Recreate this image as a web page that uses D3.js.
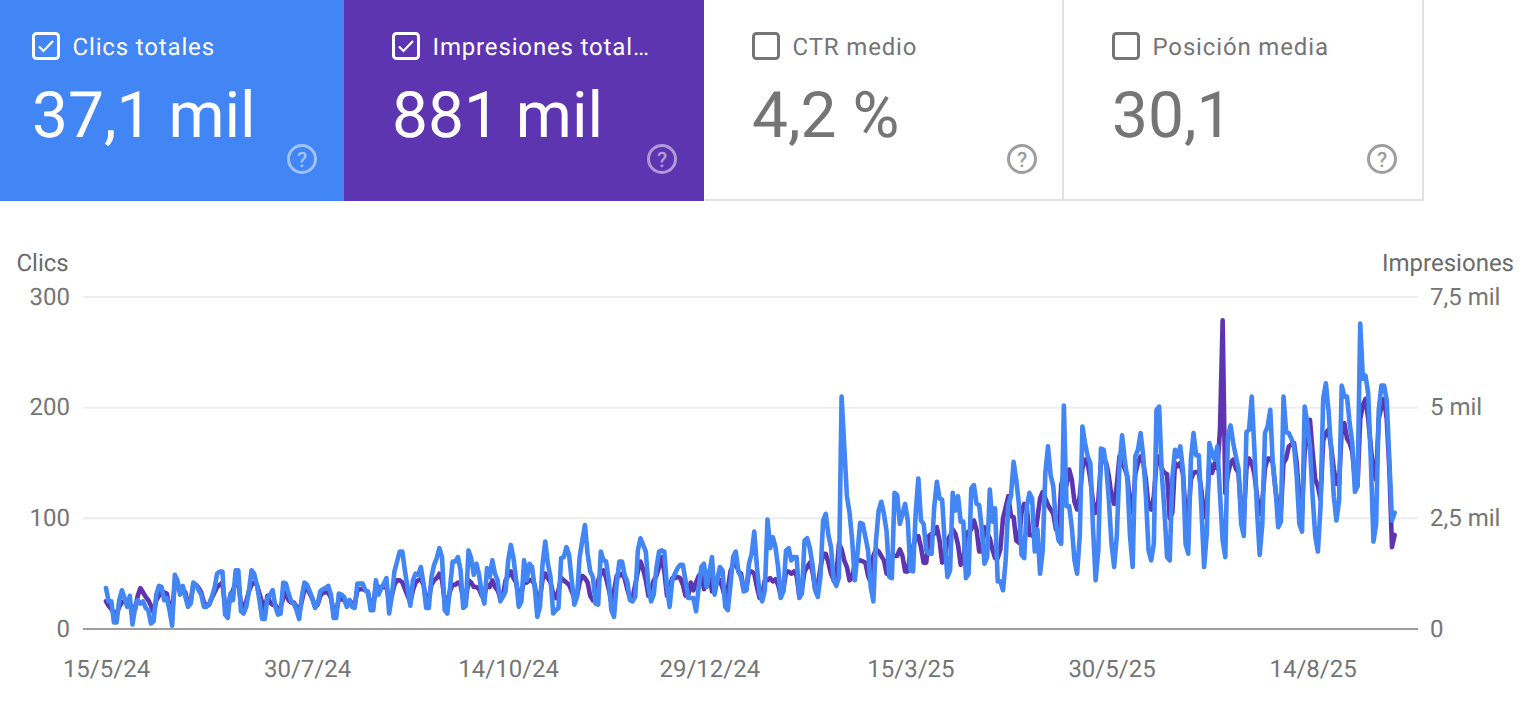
<!DOCTYPE html>
<html lang="es">
<head>
<meta charset="utf-8">
<title>Rendimiento</title>
<script src="https://cdn.jsdelivr.net/npm/d3@7/dist/d3.min.js"></script>
<style>
html,body{margin:0;padding:0;background:#fff;overflow:hidden}
svg{display:block;font-family:Roboto,sans-serif;text-rendering:geometricPrecision}
</style>
</head>
<body>
<svg id="chart" width="1528" height="716"></svg>
<script>
const cardLabels = ["Clics totales", "Impresiones total…", "CTR medio", "Posición media"];
const cardValues = ["37,1 mil", "881 mil", "4,2 %", "30,1"];
const cardChecked = [true, true, false, false];
const cardFills = ["#4285f4", "#5e35b1", "#ffffff", "#ffffff"];

const clicksTicks = [0, 100, 200, 300];
const impressionTicks = [0, 2500, 5000, 7500];
const impressionTickLabels = ["0", "2,5 mil", "5 mil", "7,5 mil"];
const dateTicks = ["2024-05-15", "2024-07-30", "2024-10-14", "2024-12-29", "2025-03-15", "2025-05-30", "2025-08-14"];
const dateTickLabels = ["15/5/24", "30/7/24", "14/10/24", "29/12/24", "15/3/25", "30/5/25", "14/8/25"];
const firstDay = "2024-05-15";

const clicks = [
37,25,25,6,6,26,35,28,20,30,
4,19,26,23,25,19,17,5,7,31,
39,38,26,28,17,3,49,44,31,39,
29,20,23,42,40,35,31,20,20,23,
29,37,50,52,52,13,10,32,26,53,
53,16,14,20,34,53,50,40,26,9,
9,28,31,35,20,13,14,42,41,32,
25,23,17,9,29,42,40,34,28,19,
23,34,36,37,39,31,10,10,32,31,
29,20,26,20,19,41,41,41,35,34,
17,17,44,31,37,41,46,14,29,52,
61,70,70,52,37,21,44,50,49,56,
41,19,19,47,58,64,73,65,17,14,
37,61,61,65,53,19,21,71,64,49,
59,49,32,23,55,47,62,50,44,25,
29,34,62,76,64,44,20,25,62,44,
59,56,38,11,20,59,79,59,47,14,
17,19,64,65,74,67,44,22,29,65,
80,94,68,52,47,23,22,70,62,61,44,
17,11,41,61,61,49,43,26,25,29,
71,82,76,70,38,25,31,55,70,71,
70,38,20,44,50,55,58,58,44,28,
28,28,16,38,56,59,38,50,65,31,
44,56,53,20,17,40,65,70,52,47,
34,35,59,68,88,56,32,25,35,99,
73,83,74,56,28,34,71,73,62,65,
65,28,32,80,82,73,58,35,29,47,
98,104,85,74,44,39,47,210,165,120,
105,80,44,68,96,95,83,71,38,25,
80,107,115,104,88,47,46,123,121,95,104,
113,98,53,52,105,136,98,95,71,68,
68,110,133,118,117,77,47,53,123,107,
120,97,97,46,50,127,130,113,112,90,
59,65,126,97,109,43,43,35,62,112,
120,151,135,113,67,64,111,123,118,70,
90,50,71,141,165,139,129,95,80,77,
202,
111,111,92,62,50,84,183,168,156,150,
92,44,71,163,162,147,117,77,56,84,
147,175,153,135,84,56,156,162,177,156,
120,71,62,77,198,201,141,107,65,62,
137,162,156,165,144,77,68,153,177,157,
157,107,56,86,168,159,153,165,122,80,
65,174,184,168,156,145,95,84,178,180,
210,162,107,67,95,177,183,198,147,126,
92,97,210,178,177,172,165,138,95,88,201,
186,165,120,84,70,111,208,222,198,162,
120,98,116,220,210,210,186,168,124,129,
276,226,229,213,153,79,95,198,220,220,
207,153,98,105
];

const impressions = [
625,525,450,375,350,500,600,
625,550,550,500,450,750,925,
825,725,650,525,375,650,750,
850,825,800,500,400,1000,1000,
850,900,825,550,625,1000,1000,
925,825,600,525,550,700,825,
950,1000,1050,500,450,750,875,
1050,1100,550,500,625,850,1000,
1050,1000,800,600,400,750,600,
550,550,425,500,700,825,650,
600,600,500,375,625,900,900,
800,675,500,550,750,825,825,
825,700,400,400,675,675,650,
550,650,575,550,875,900,900,
875,825,550,500,1000,950,925,
950,950,625,750,1000,1100,1100,
1050,900,750,600,875,1050,1100,
1125,1000,625,700,1000,1100,1150,
1250,1100,625,600,850,1000,1000,
1050,1000,675,650,1100,1050,950,
950,900,750,750,1000,950,1100,
950,875,700,750,1100,1200,1300,
1150,1050,750,800,1100,1050,1100,
1100,1000,600,700,1125,1250,1150,
1050,800,700,875,1150,1100,1050,
1000,850,700,750,1050,1200,1150,
1050,750,650,750,1100,1250,1325,
1150,900,600,850,1200,1200,1250,
1150,900,700,700,1000,1300,1525,
1350,1100,750,900,1100,1200,1400,
1625,1300,750,950,1150,1150,1175,
1150,1000,750,750,1050,875,1050,
1200,1250,900,1050,1300,850,950,
1150,1100,925,700,900,1300,1450,
1500,1300,1250,900,900,1300,1300,
1250,950,700,800,1100,1100,1150,
1075,1125,1000,750,875,1300,1300,
1250,1300,1200,750,900,1300,1400,
1500,1300,900,1000,1375,1700,1700,
1500,1250,1100,1200,1925,1800,1550,
1400,1100,1150,1500,1550,1550,1525,
1500,1200,1050,1650,1800,1750,1650,
1550,1250,1250,1650,1650,1650,1800,
1650,1300,1300,1750,1850,2075,2100,
1850,1500,1500,2100,2150,2150,2300,
2000,1500,1600,2000,2100,2250,2150,
1900,1450,1550,2150,2200,2250,2450,
2250,1750,1750,2300,2150,2050,1800,
1600,1600,1800,2500,2750,3000,2550,
2525,2000,1950,2625,2825,2750,2125,
2125,2050,2500,2950,3100,2950,2800,
2700,2600,2250,2200,3250,3500,3250,
3600,3375,2875,2700,3000,3625,3825,
3750,3375,2875,2625,2875,3750,3825,
3750,3450,3000,2825,3250,3900,3750,
3625,3450,2875,2625,3500,3750,3900,
3750,3375,2750,2700,3000,3750,3900,
3625,3525,3500,2500,2625,3750,3675,
3750,3500,2625,2525,3375,3525,3550,
3525,3125,2525,2750,3750,3525,3750,
3625,4500,6975,3075,3500,3750,3825,
3625,3525,2625,2500,3625,3850,3750,
3500,3000,2600,2875,3625,3850,3850,
3750,3125,2750,2625,3750,3850,4125,4175,
4200,3750,2875,2625,4000,4375,4725,
4000,3375,3225,2925,4250,4425,4500,
4125,3625,3275,3275,4500,4650,4300,
4200,4000,3375,3250,4750,5050,5200,
4750,4125,3525,3375,4750,5025,5200,
4750,3625,1850,2125
];

const parseDay = d3.utcParse("%Y-%m-%d");
const dates = clicks.map((_, i) => d3.utcDay.offset(parseDay(firstDay), i));

const svg = d3.select("#chart");

/* ---------- scorecards ---------- */
const cardEdges = [0, 344, 704, 1064, 1424];
const cards = svg.selectAll("g.card").data(cardLabels).join("g")
  .attr("class", "card")
  .attr("transform", (_, i) => `translate(${cardEdges[i]},0)`);

cards.append("rect")
  .attr("width", (_, i) => cardEdges[i + 1] - cardEdges[i])
  .attr("height", 201)
  .attr("fill", (_, i) => cardFills[i]);

const ink = i => cardChecked[i] ? "#ffffff" : "#757575";
const left = i => i === 0 ? 33 : 49;

cards.append("rect")
  .attr("x", (_, i) => left(i) + 0.5).attr("y", 33.5)
  .attr("width", 25).attr("height", 25).attr("rx", 3)
  .attr("fill", "none")
  .attr("stroke", (_, i) => ink(i)).attr("stroke-width", 3);

cards.filter((_, i) => cardChecked[i]).append("path")
  .attr("d", (_, i) => d3.line()([[left(i) + 6, 46.5], [left(i) + 10.5, 51], [left(i) + 20, 41]]))
  .attr("fill", "none").attr("stroke", "#fff").attr("stroke-width", 2.2);

cards.append("text")
  .attr("x", (_, i) => left(i) + 39.5).attr("y", 54.5)
  .attr("font-size", 24).attr("letter-spacing", 0.85).attr("fill", (_, i) => ink(i))
  .text(d => d);

cards.append("text")
  .attr("x", (_, i) => left(i) - 1).attr("y", 137)
  .attr("font-size", 64).attr("font-weight", 400)
  .attr("fill", (_, i) => ink(i))
  .text((_, i) => cardValues[i]);

const helpX = [302, 318, 318, 318];
cards.append("circle")
  .attr("cx", (_, i) => helpX[i]).attr("cy", 159).attr("r", 13.5)
  .attr("fill", "none")
  .attr("stroke", (_, i) => cardChecked[i] ? "rgba(255,255,255,.5)" : "#9e9e9e")
  .attr("stroke-width", 3);
cards.append("text")
  .attr("x", (_, i) => helpX[i]).attr("y", 167)
  .attr("text-anchor", "middle").attr("font-size", 21).attr("font-weight", 500)
  .attr("fill", (_, i) => cardChecked[i] ? "rgba(255,255,255,.5)" : "#9e9e9e")
  .text("?");

svg.append("path")
  .attr("d", "M705,200H1423M1063,0V200M1423,0V201")
  .attr("fill", "none").attr("stroke", "#e0e0e0").attr("stroke-width", 2);

/* ---------- scales ---------- */
const plotLeft = 83, plotRight = 1418;
const x = d3.scaleUtc()
  .domain([parseDay(firstDay), d3.utcDay.offset(parseDay(firstDay), 76)])
  .range([106, 307.1]);
const yClicks = d3.scaleLinear().domain([0, 300]).range([629, 297]);
const yImpr = d3.scaleLinear().domain([0, 7500]).range([629, 297]);

/* ---------- grid and axes ---------- */
svg.append("g").selectAll("line").data(clicksTicks).join("line")
  .attr("x1", plotLeft).attr("x2", plotRight)
  .attr("y1", d => yClicks(d)).attr("y2", d => yClicks(d))
  .attr("stroke", d => d === 0 ? "#9e9e9e" : "#eeeeee").attr("stroke-width", 2);

const styleAxis = g => {
  g.select(".domain").remove();
  g.selectAll(".tick line").remove();
  g.selectAll("text").attr("fill", "#757575").attr("font-size", 24).attr("font-family", "Roboto,sans-serif");
};

svg.append("g").attr("transform", "translate(70,-0.5)")
  .call(d3.axisLeft(yClicks).tickValues(clicksTicks).tickSize(0).tickPadding(0))
  .call(styleAxis);

svg.append("g").attr("transform", "translate(1430,-0.5)")
  .call(d3.axisRight(yImpr).tickValues(impressionTicks).tickSize(0).tickPadding(0)
    .tickFormat((_, i) => impressionTickLabels[i]))
  .call(styleAxis);

svg.append("g").attr("transform", "translate(0,660)")
  .call(d3.axisBottom(x).tickValues(dateTicks.map(parseDay)).tickSize(0).tickPadding(0)
    .tickFormat((_, i) => dateTickLabels[i]))
  .call(styleAxis);

svg.append("text").attr("x", 16.5).attr("y", 271)
  .attr("font-size", 24).attr("fill", "#6b6b6b").text("Clics");
svg.append("text").attr("x", 1514).attr("y", 271).attr("text-anchor", "end")
  .attr("font-size", 24).attr("fill", "#6b6b6b").text("Impresiones");

/* ---------- series ---------- */
const lineImpr = d3.line().x((_, i) => x(dates[i])).y(d => yImpr(d));
const lineClicks = d3.line().x((_, i) => x(dates[i])).y(d => yClicks(d));

svg.append("path").datum(impressions)
  .attr("d", lineImpr).attr("fill", "none")
  .attr("stroke", "#5e35b1").attr("stroke-width", 4.6)
  .attr("stroke-linejoin", "round").attr("stroke-linecap", "round");
svg.append("path").datum(clicks)
  .attr("d", lineClicks).attr("fill", "none")
  .attr("stroke", "#4285f4").attr("stroke-width", 4.6)
  .attr("stroke-linejoin", "round").attr("stroke-linecap", "round");
</script>
</body>
</html>
